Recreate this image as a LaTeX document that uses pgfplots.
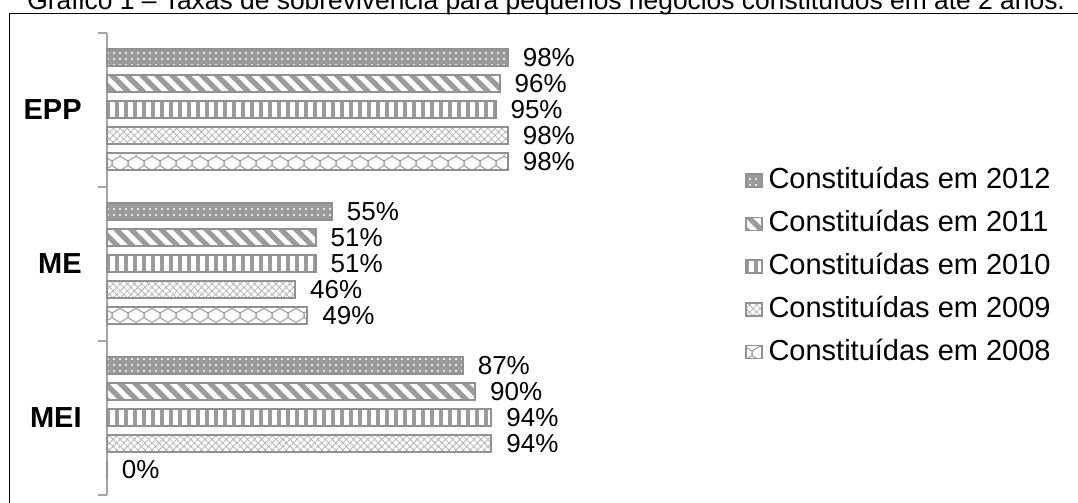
\documentclass[border=0pt]{standalone}
\usepackage{fontspec}
\setmainfont{Liberation Sans}
\usepackage{pgfplots}
\pgfplotsset{compat=1.18}
\usetikzlibrary{patterns,patterns.meta}

\definecolor{bargray}{RGB}{155,155,155}
\definecolor{edgegray}{RGB}{145,145,145}
\definecolor{axgray}{RGB}{165,165,165}

% honeycomb-like lattice used for the 2008 series
\pgfdeclarepatternformonly{honeycomb}{\pgfqpoint{-1pt}{-1pt}}{\pgfqpoint{9pt}{10.5pt}}{\pgfqpoint{8pt}{9.5pt}}{%
  \pgfsetlinewidth{0.5pt}%
  \pgfpathmoveto{\pgfqpoint{0pt}{0pt}}%
  \pgfpathlineto{\pgfqpoint{4pt}{2.4pt}}%
  \pgfpathlineto{\pgfqpoint{8pt}{0pt}}%
  \pgfpathmoveto{\pgfqpoint{4pt}{2.4pt}}%
  \pgfpathlineto{\pgfqpoint{4pt}{4.75pt}}%
  \pgfpathlineto{\pgfqpoint{8pt}{7.15pt}}%
  \pgfpathlineto{\pgfqpoint{8pt}{9.5pt}}%
  \pgfpathmoveto{\pgfqpoint{4pt}{4.75pt}}%
  \pgfpathlineto{\pgfqpoint{0pt}{7.15pt}}%
  \pgfpathlineto{\pgfqpoint{0pt}{9.5pt}}%
  \pgfusepath{stroke}}

\begin{document}
\begin{tikzpicture}
\begin{axis}[
  at={(53.5pt,4pt)}, anchor=south west,
  scale only axis, width=204.5pt, height=231pt,
  xmin=0, xmax=100, ymin=-0.5, ymax=2.5,
  hide x axis,
  axis y line*=left,
  y axis line style={draw=axgray, line width=1pt},
  ytick={0,1,2}, yticklabels={MEI,ME,EPP},
  minor ytick={-0.5,0.5,1.5,2.5},
  tick align=outside, major tick length=0pt, minor tick length=4.5pt,
  tick style={draw=axgray, line width=1pt},
  yticklabel style={font=\fontsize{14.5}{17}\selectfont\bfseries, inner sep=0pt, xshift=-12.5pt},
  xbar, bar width=8.5pt,
  point meta=x,
  /pgf/number format/assume math mode=true,
  nodes near coords={\pgfmathprintnumber{\pgfplotspointmeta}\%},
  every node near coord/.append style={font=\fontsize{13}{15}\selectfont, anchor=west, inner sep=0pt, xshift=7pt, text=black},
  clip=false,
  legend cell align=left,
  legend style={at={(1.560,0.710)}, anchor=north west, draw=none, fill=none,
    inner sep=0pt, outer sep=0pt, row sep=7.4pt, column sep=3pt,
    font=\fontsize{14.5}{17}\selectfont,
    nodes={inner sep=0pt, text height=11pt, text depth=3pt}},
  legend image code/.code={\draw[#1, line width=0.75pt] (0pt,-3.25pt) rectangle (8pt,3.25pt);},
]
% 2012
\addplot[bar shift=26pt, draw=edgegray, line width=1pt,
  preaction={fill=bargray}, pattern={Dots[distance=3pt, radius=0.55pt]}, pattern color=white]
  coordinates {(98,2) (55,1) (87,0)};
% 2011
\addplot[bar shift=13pt, draw=edgegray, line width=1pt,
  pattern={Lines[angle=-45, distance=5.3pt, line width=2.6pt]}, pattern color=bargray]
  coordinates {(96,2) (51,1) (90,0)};
% 2010
\addplot[bar shift=0pt, draw=edgegray, line width=1pt,
  pattern={Lines[angle=90, distance=4.5pt, line width=2pt]}, pattern color=bargray]
  coordinates {(95,2) (51,1) (94,0)};
% 2009
\addplot[bar shift=-13pt, draw=edgegray, line width=1pt,
  pattern={Hatch[angle=45, distance=2.5pt, line width=0.4pt]}, pattern color=bargray!75]
  coordinates {(98,2) (46,1) (94,0)};
% 2008
\addplot[bar shift=-26pt, draw=edgegray, line width=1pt,
  pattern=honeycomb, pattern color=bargray]
  coordinates {(98,2) (49,1) (0,0)};
\legend{Constituídas em 2012, Constituídas em 2011, Constituídas em 2010, Constituídas em 2009, Constituídas em 2008}
\end{axis}
% frame and caption
\draw[line width=0.75pt] (4.75pt,-5pt) -- (4.75pt,244.75pt) -- (560pt,244.75pt);
\node[anchor=base west, inner sep=0pt, font=\fontsize{13.2}{15}\selectfont] at (13.5pt,246.75pt)
  {Gráfico 1 – Taxas de sobrevivência para pequenos negócios constituídos em até 2 anos.};
\pgfresetboundingbox
\path[use as bounding box] (0pt,0pt) rectangle (539pt,251.5pt);
\end{tikzpicture}
\end{document}
